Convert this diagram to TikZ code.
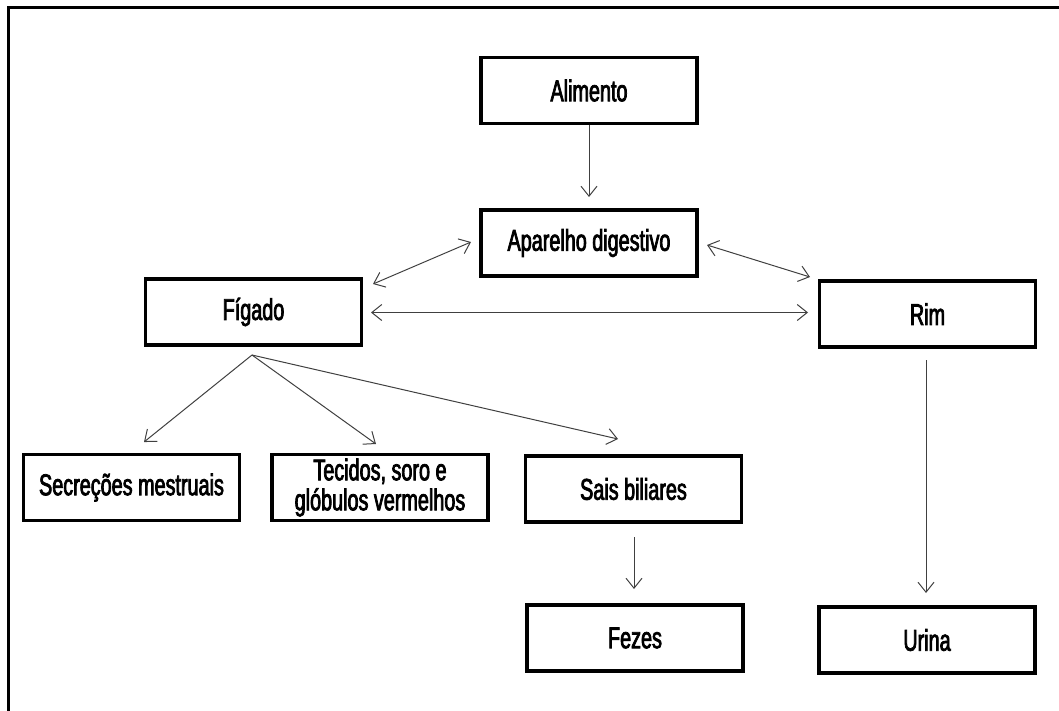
\documentclass[tikz,border=0pt]{standalone}
\usepackage{fontspec}
\setmainfont[FakeStretch=0.66,FakeBold=2.5]{Liberation Sans}
\usetikzlibrary{arrows.meta}
\begin{document}
\begin{tikzpicture}[x=1pt,y=-1pt,
  box/.style={draw=black,line width=3.5pt,minimum width=216pt,minimum height=66pt,
    inner sep=0pt,align=center,font=\fontsize{30}{30}\selectfont},
  arr/.style={-{Straight Barb[length=10pt,width=16pt,line width=1pt]},line width=1pt,draw=black!75},
  darr/.style={{Straight Barb[length=10pt,width=16pt,line width=1pt]}-{Straight Barb[length=10pt,width=16pt,line width=1pt]},line width=1pt,draw=black!75}]
\useasboundingbox (0,0) rectangle (1059,710);
\draw[line width=3pt] (8,720) -- (8,7) -- (1070,7);
\node[box] (ali) at (589,90.5) {Alimento};
\node[box] (apa) at (589,243) {Aparelho digestivo};
\node[box] (fig) at (253.5,312) {Fígado};
\node[box] (rim) at (927.5,314) {Rim};
\node[box] (sec) at (131.5,487.5) {Secreções mestruais};
\node[box] (tec) at (380,487.5) {Tecidos, soro e\\glóbulos vermelhos};
\node[box] (sai) at (633.5,489) {Sais biliares};
\node[box] (fez) at (635,638) {Fezes};
\node[box] (uri) at (927,640) {Urina};
% connector end points
\coordinate (a1) at (589,125);
\coordinate (a2) at (589,197);
\coordinate (p1) at (471,242);
\coordinate (f1) at (373,284);
\coordinate (p2) at (707,245);
\coordinate (r1) at (810,277);
\coordinate (f2) at (371,312.5);
\coordinate (r2) at (808,312.5);
\coordinate (fo) at (252,355);
\coordinate (s1) at (144,442);
\coordinate (t1) at (376,444);
\coordinate (b1) at (618,439);
\coordinate (b2) at (634,537);
\coordinate (z1) at (634,589);
\coordinate (r3) at (926,360);
\coordinate (u1) at (926,593);
\draw[arr] (a1) -- (a2);
\draw[darr] (p1) -- (f1);
\draw[darr] (p2) -- (r1);
\draw[darr] (f2) -- (r2);
\draw[arr] (fo) -- (s1);
\draw[arr] (fo) -- (t1);
\draw[arr] (fo) -- (b1);
\draw[arr] (b2) -- (z1);
\draw[arr] (r3) -- (u1);
\end{tikzpicture}
\end{document}
